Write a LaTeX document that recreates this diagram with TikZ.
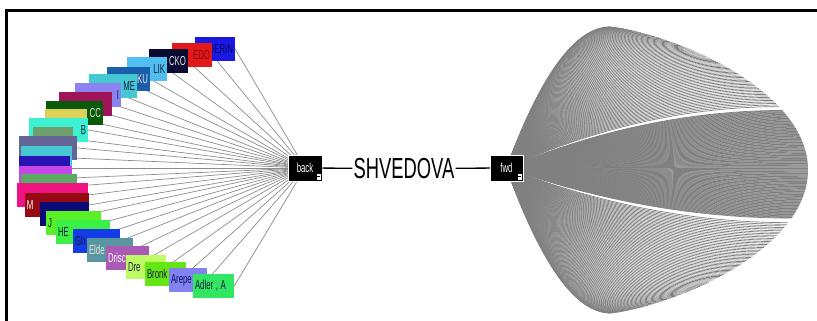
\documentclass[tikz,border=0pt]{standalone}
\usepackage{fontspec}
\setmainfont{Liberation Sans}
\usepackage{graphicx}
\usetikzlibrary{backgrounds}
\definecolor{c01}{HTML}{1919E1}
\definecolor{c02}{HTML}{E11919}
\definecolor{c03}{HTML}{0A0A32}
\definecolor{c04}{HTML}{50BEF0}
\definecolor{c05}{HTML}{195FAA}
\definecolor{c06}{HTML}{46C8D2}
\definecolor{c07}{HTML}{8C82F0}
\definecolor{c08}{HTML}{A0145A}
\definecolor{c09}{HTML}{0A5A0A}
\definecolor{c10}{HTML}{DCD25A}
\definecolor{c11}{HTML}{3CF0D2}
\definecolor{c12}{HTML}{6EA06E}
\definecolor{c13}{HTML}{646496}
\definecolor{c14}{HTML}{46C8D2}
\definecolor{c15}{HTML}{2814B4}
\definecolor{c16}{HTML}{C846E6}
\definecolor{c17}{HTML}{5AAA64}
\definecolor{c18}{HTML}{F01482}
\definecolor{c19}{HTML}{960A14}
\definecolor{c20}{HTML}{0A0A78}
\definecolor{c21}{HTML}{5AF028}
\definecolor{c22}{HTML}{3CF046}
\definecolor{c23}{HTML}{143CE6}
\definecolor{c24}{HTML}{5A96A0}
\definecolor{c25}{HTML}{AA5AB4}
\definecolor{c26}{HTML}{BEFA64}
\definecolor{c27}{HTML}{64E614}
\definecolor{c28}{HTML}{8282F0}
\definecolor{c29}{HTML}{32E664}
\definecolor{tagdark}{HTML}{141E3C}
\definecolor{taglight}{HTML}{E6E6E6}
\definecolor{tagred}{HTML}{8C0A0A}
\definecolor{tagnavy}{HTML}{0A0A64}
\definecolor{fangray}{HTML}{808080}
\newcommand{\sqz}[1]{\scalebox{0.6}[1]{#1}}
\tikzset{
  tag/.style   = {rectangle, inner xsep=2pt, inner ysep=0pt, minimum height=24pt,
                  font=\fontsize{13}{13}\selectfont, text=tagdark},
  tagr/.style  = {tag, align=right},
  tagl/.style  = {tag, align=left},
  hub/.style   = {rectangle, fill=black, draw=white, line width=0.5pt, text=white,
                  minimum width=34pt, minimum height=26pt, inner sep=0pt,
                  font=\fontsize{13}{13}\selectfont},
  btn/.style   = {rectangle, fill=white, draw=black, line width=0.3pt,
                  minimum width=5pt, minimum height=7pt, inner sep=0pt,
                  path picture={\draw[black, line width=1pt]
                    ([xshift=1pt]path picture bounding box.west) --
                    ([xshift=-1pt]path picture bounding box.east);}},
  link/.style  = {line width=1.3pt, draw=black},
  spoke/.style = {line width=0.7pt, draw=gray!90},
  fanline/.style={line width=0.7pt, draw=fangray},
}

\begin{document}
\begin{tikzpicture}[x=1pt, y=-1pt]
  \useasboundingbox (0,0) rectangle (817,321);
  % frame
  \draw[line width=3pt] (817,10.8) -- (6.5,10.8) -- (6.5,321);

  % hubs and name
  \node[hub] (back) at (305,168) {\sqz{back}};
  \node[btn, anchor=south east] (backbtn) at ([shift={(-1pt,1pt)}]back.south east) {};
  \node[font=\fontsize{29}{29}\selectfont, inner sep=1pt]
    (name) at (404,168.5) {\scalebox{0.633}[1]{SHVEDOVA}};
  \node[hub, minimum width=33pt] (fwd) at (506.5,168) {\sqz{fwd}};
  \node[btn, anchor=south east] (fwdbtn) at ([shift={(-1pt,1pt)}]fwd.south east) {};

  \draw[link] (back) -- (name);
  \draw[link] (name) -- (fwd);

  % back side labels
  \node[tagr, fill=c01, text=tagnavy, text width=36pt] (b01) at (215,49) {\sqz{DERIN}};
  \node[tagr, fill=c02, text=tagred, text width=36pt] (b02) at (192,55) {\sqz{EDO}};
  \node[tagr, fill=c03, text=taglight, text width=35pt] (b03) at (168.5,61.5) {\sqz{CKO}};
  \node[tagr, fill=c04, text width=36pt] (b04) at (147,69) {\sqz{LIK}};
  \node[tagr, fill=c05, text=taglight, text width=39pt] (b05) at (128.5,79) {\sqz{KU}};
  \node[tagr, fill=c06, text width=44pt] (b06) at (113,86) {\sqz{ME}};
  \node[tagr, fill=c07, text width=42pt] (b07) at (98,95) {\sqz{I}};
  \node[tagr, fill=c08, text width=49pt] (b08) at (85.5,104) {};
  \node[tagr, fill=c09, text=taglight, text width=53pt] (b09) at (74.5,113) {\sqz{CC}};
  \node[tagr, fill=c10, text width=38pt] (b10) at (66,121) {};
  \node[tagr, fill=c11, text width=55pt] (b11) at (58.5,130) {\sqz{B}};
  \node[tagr, fill=c12, text width=36pt] (b12) at (53,139) {};
  \node[tagr, fill=c13, text width=54pt] (b13) at (48,148) {};
  \node[tagr, fill=c14, text width=47pt] (b14) at (46.5,158) {};
  \node[tagr, fill=c15, text width=47pt] (b15) at (44.5,168) {};
  \node[tagr, fill=c16, text width=49pt] (b16) at (45.5,178) {};
  \node[tagr, fill=c17, text width=52pt] (b17) at (49,186) {};
  \node[tagl, fill=c18, text width=67pt] (b18) at (52.5,195) {};
  \node[tagl, fill=c19, text=white, text width=60pt] (b19) at (57,205) {\sqz{M}};
  \node[tagl, fill=c20, text width=45pt] (b20) at (64.5,214) {};
  \node[tagl, fill=c21, text width=51pt] (b21) at (73.5,223) {\sqz{J}};
  \node[tagl, fill=c22, text width=50pt] (b22) at (83,232) {\sqz{HE}};
  \node[tagl, fill=c23, text width=43pt] (b23) at (96.5,241) {\sqz{Gh}};
  \node[tagl, fill=c24, text=taglight, text width=42pt] (b24) at (110,250) {\sqz{Elde}};
  \node[tagl, fill=c25, text=white, text width=39pt] (b25) at (127.5,258) {\sqz{Drisc}};
  \node[tagl, fill=c26, text width=36pt] (b26) at (146,267) {\sqz{Dre}};
  \node[tagl, fill=c27, text width=37pt] (b27) at (165.5,274) {\sqz{Bronk}};
  \node[tagl, fill=c28, text=tagnavy, text width=34pt] (b28) at (188,280) {\sqz{Arepe}};
  \node[tagl, fill=c29, text width=37pt] (b29) at (213.5,286) {\sqz{Adler , A}};

  \begin{scope}[on background layer]
    % spokes into back
    \foreach \b in {01,02,03,04,05,06,07,08,09,10,11,12,13,14,15,16,17,18,19,20,
                    21,22,23,24,25,26,27,28,29}
      \draw[spoke] (b\b.east) -- (back.center);
    % fan out of fwd
    \foreach \t in {-90,-89.3,...,-26.3, -24.6,-24.35,...,19.8, 21.6,22.3,...,90} {
      \pgfmathsetmacro\fx{610+198*pow(abs(cos(\t)),1.45)}
      \pgfmathsetmacro\fy{170+143*sin(\t)}
      \pgfmathsetmacro\cx{506.5+0.5*(\fx-506.5)}
      \pgfmathsetmacro\ax{506.5+2/3*(\cx-506.5)}
      \pgfmathsetmacro\ay{168+2/3*(\fy-168)}
      \pgfmathsetmacro\bx{\fx+2/3*(\cx-\fx)}
      \coordinate (tip) at (\fx,\fy);
      \draw[fanline] (fwd.center) .. controls (\ax,\ay) and (\bx,\fy) .. (tip);
    }
  \end{scope}
\end{tikzpicture}
\end{document}
